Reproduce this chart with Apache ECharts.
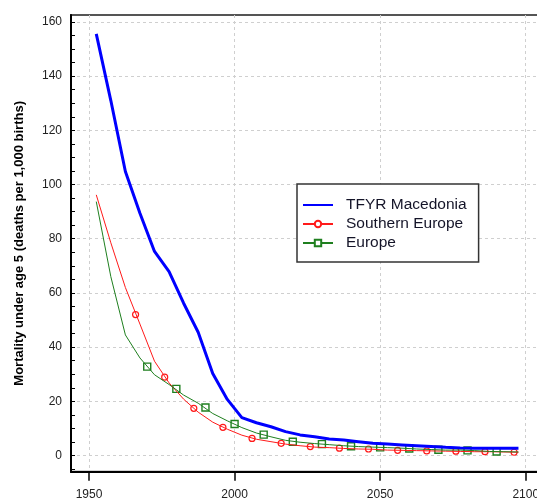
<!DOCTYPE html>
<html><head><meta charset="utf-8">
<script src="https://cdn.jsdelivr.net/npm/echarts@6/dist/echarts.min.js"></script>
<style>html,body{margin:0;padding:0;background:#fff}#c{width:537px;height:500px}</style>
</head><body><div id="c"></div>
<script>
const years = [1952.5, 1957.5, 1962.5, 1967.5, 1972.5, 1977.5, 1982.5, 1987.5, 1992.5, 1997.5,
  2002.5, 2007.5, 2012.5, 2017.5, 2022.5, 2027.5, 2032.5, 2037.5, 2042.5, 2047.5,
  2052.5, 2057.5, 2062.5, 2067.5, 2072.5, 2077.5, 2082.5, 2087.5, 2092.5, 2097.5];
const macedonia = [155.6, 131, 104.8, 89.4, 75.3, 67.9, 56.2, 45.5, 30.3, 20.7,
  14.0, 12.1, 10.6, 8.8, 7.6, 6.9, 6.1, 5.7, 5.1, 4.5,
  4.2, 3.9, 3.6, 3.3, 3.0, 2.8, 2.7, 2.7, 2.7, 2.7];
const southernEurope = [96.2, 78.5, 62, 48.5, 34.8, 26.8, 20.8, 16.0, 12.3, 9.7,
  7.5, 6.0, 5.1, 4.2, 3.6, 3.1, 2.9, 2.6, 2.4, 2.3,
  2.0, 1.9, 1.8, 1.7, 1.6, 1.5, 1.4, 1.4, 1.3, 1.2];
const europe = [93.7, 66, 44.5, 36, 29.8, 26.2, 22.3, 19.3, 15.5, 12.8,
  10.3, 8.3, 6.9, 5.6, 4.9, 4.4, 4.0, 3.6, 3.3, 3.1,
  2.9, 2.7, 2.4, 2.2, 2.0, 2.0, 1.8, 1.5, 1.4, 1.3];
const southernMarkerYears = [1966, 1976, 1986, 1996, 2006, 2016, 2026, 2036, 2046, 2056, 2066, 2076, 2086, 2096];
const southernMarkerValues = [52, 28.9, 17.4, 10.4, 6.3, 4.5, 3.3, 2.7, 2.4, 1.9, 1.7, 1.6, 1.4, 1.2];
const europeMarkerYears = [1970, 1980, 1990, 2000, 2010, 2020, 2030, 2040, 2050, 2060, 2070, 2080, 2090];
const europeMarkerValues = [32.8, 24.6, 17.7, 11.6, 7.7, 5.1, 4.2, 3.4, 3.0, 2.6, 2.1, 1.9, 1.5];
const xTicks = [1950, 2000, 2050, 2100];
const yTicks = [0, 20, 40, 60, 80, 100, 120, 140, 160];
const yMinorTicks = [-5, 0, 5, 10, 15, 20, 25, 30, 35, 40, 45, 50, 55, 60, 65, 70, 75, 80, 85, 90, 95, 100,
  105, 110, 115, 120, 125, 130, 135, 140, 145, 150, 155, 160];
const yTitle = 'Mortality under age 5 (deaths per 1,000 births)';
const names = ['TFYR Macedonia', 'Southern Europe', 'Europe'];

const zip = (xs, ys) => xs.map((x, i) => [x, ys[i]]);
const FONT = '"Liberation Sans", Arial, sans-serif';
const X_MIN = 1943.82, X_MAX = 2107.3, Y_MIN = -5.98, Y_MAX = 162.58;
const BLUE = '#0000FF', RED = '#FF1A1A', GREEN = '#1F7F1F';

const chart = echarts.init(document.getElementById('c'), null, {renderer: 'canvas'});
chart.setOption({
  animation: false,
  backgroundColor: '#fff',
  grid: {left: 71, top: 15, width: 476, height: 456.7, show: true, borderColor: '#555', borderWidth: 2,
         backgroundColor: 'transparent', containLabel: false, outerBoundsMode: 'none'},
  legend: {
    data: [{name: names[0], itemStyle: {opacity: 0}}, names[1], names[2]],
    orient: 'vertical', left: 297, top: 184,
    padding: [11.5, 12, 9.5, 5], itemGap: 0, itemWidth: 30, itemHeight: 8,
    borderColor: '#333', borderWidth: 1.5, backgroundColor: '#fff', borderRadius: 0,
    textStyle: {fontFamily: FONT, fontSize: 15.5, lineHeight: 19, color: '#141428', padding: [0, 0, 0, 8]}
  },
  xAxis: {
    type: 'value', min: X_MIN, max: X_MAX,
    axisLine: {show: true, onZero: false, lineStyle: {color: '#000', width: 2}},
    axisTick: {show: true, inside: false, length: 9, customValues: xTicks, lineStyle: {color: '#000', width: 1.5}},
    axisLabel: {customValues: xTicks, margin: 17, fontFamily: FONT, fontSize: 12, color: '#222',
                formatter: v => String(v), hideOverlap: false},
    splitLine: {show: true, lineStyle: {color: '#cfcfcf', type: [3, 3], width: 1}}
  },
  yAxis: [{
    type: 'value', min: Y_MIN, max: Y_MAX, position: 'left',
    name: yTitle, nameLocation: 'middle', nameGap: 45, nameRotate: 90,
    nameTextStyle: {fontFamily: FONT, fontSize: 13, fontWeight: 'bold', color: '#000'},
    axisLine: {show: true, onZero: false, lineStyle: {color: '#000', width: 2}},
    axisTick: {show: true, inside: true, length: 4, customValues: yTicks, lineStyle: {color: '#000'}},
    axisLabel: {customValues: yTicks, margin: 9, fontFamily: FONT, fontSize: 12, color: '#222', formatter: v => String(v)},
    splitLine: {show: true, lineStyle: {color: '#cfcfcf', type: [3, 3], width: 1}}
  }, {
    type: 'value', min: Y_MIN, max: Y_MAX, position: 'left', offset: 0,
    axisLine: {show: false},
    axisTick: {show: true, inside: true, length: 4, customValues: yMinorTicks, lineStyle: {color: '#000'}},
    axisLabel: {show: false},
    splitLine: {show: false}
  }],
  series: [
    {name: names[0], type: 'line', data: zip(years, macedonia), symbol: 'none',
     lineStyle: {color: BLUE, width: 3}, itemStyle: {color: BLUE}},
    {name: names[1], type: 'line', data: zip(years, southernEurope), symbol: 'emptyCircle', symbolSize: 6, showSymbol: false,
     lineStyle: {color: RED, width: 1}, itemStyle: {color: RED}},
    {name: names[1], type: 'scatter', data: zip(southernMarkerYears, southernMarkerValues), symbol: 'circle', symbolSize: 6,
     itemStyle: {color: '#fff', borderColor: RED, borderWidth: 1.2, opacity: 1}},
    {name: names[2], type: 'line', data: zip(years, europe), symbol: 'emptyRect', symbolSize: 7, showSymbol: false,
     lineStyle: {color: GREEN, width: 1}, itemStyle: {color: GREEN}},
    {name: names[2], type: 'scatter', data: zip(europeMarkerYears, europeMarkerValues), symbol: 'rect', symbolSize: 7,
     itemStyle: {color: '#fff', borderColor: GREEN, borderWidth: 1.4, opacity: 1}}
  ]
});
</script></body></html>
